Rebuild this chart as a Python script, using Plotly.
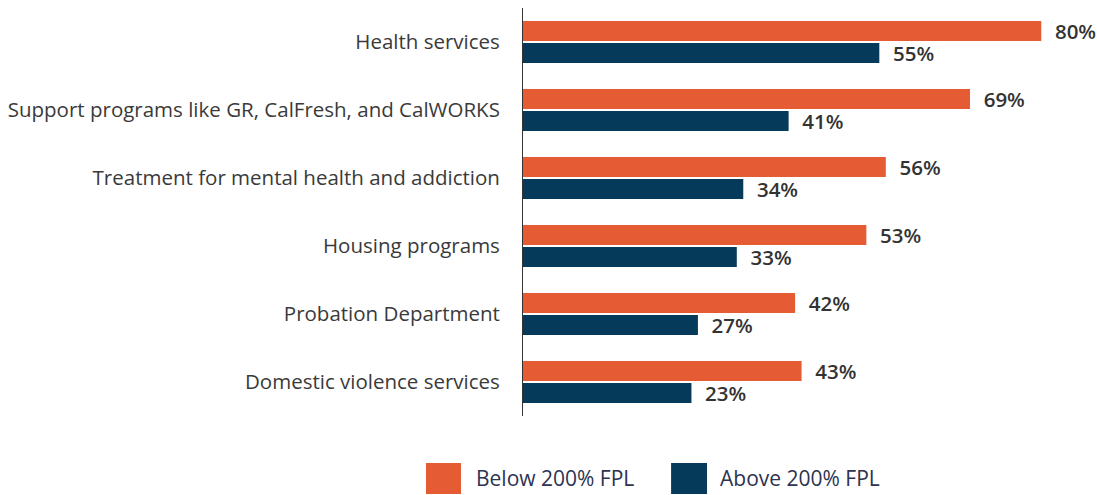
import plotly.graph_objects as go

categories = [
    "Health services",
    "Support programs like GR, CalFresh, and CalWORKS",
    "Treatment for mental health and addiction",
    "Housing programs",
    "Probation Department",
    "Domestic violence services",
]
# bar lengths as drawn in the reference
below_200 = [80, 69, 56, 53, 42, 43]
above_200 = [55, 41, 34, 33, 27, 26]
# value labels as printed in the reference
below_labels = ["80%", "69%", "56%", "53%", "42%", "43%"]
above_labels = ["55%", "41%", "34%", "33%", "27%", "23%"]
series_names = ["Below 200% FPL", "Above 200% FPL"]

ORANGE = "#E55B33"
NAVY = "#053A5B"
FONT = "Open Sans"

fig = go.Figure()
for name, vals, labels, col in [(series_names[0], below_200, below_labels, ORANGE),
                                (series_names[1], above_200, above_labels, NAVY)]:
    fig.add_trace(go.Bar(
        y=categories, x=vals, orientation="h", name=name,
        marker=dict(color=col, line=dict(width=0)),
        text=["\u00a0\u00a0" + t for t in labels],
        textposition="outside", constraintext="none",
        textfont=dict(family=FONT, size=20.5, color="#333333", weight=600),
        cliponaxis=False, showlegend=False, hoverinfo="skip",
    ))

fig.update_layout(
    width=1097, height=495,
    margin=dict(l=523, r=0, t=8, b=79),
    barmode="group", bargap=0.35, bargroupgap=0.09,
    plot_bgcolor="white", paper_bgcolor="white",
    font=dict(family=FONT, size=20, color="#3a3a3a"),
    xaxis=dict(range=[0, 88.6], visible=False, fixedrange=True),
    yaxis=dict(autorange="reversed", showline=True, linecolor="#333333", linewidth=1,
               showgrid=False, ticks="", ticklabelstandoff=18, fixedrange=True,
               tickfont=dict(family=FONT, size=20.5, color="#3a3a3a")),
)

# custom legend (large swatches)
legend_items = [(series_names[0], ORANGE, -0.169, -0.108, -0.0854),
                (series_names[1], NAVY, 0.258, 0.3206, 0.3397)]
for name, col, x0, x1, tx in legend_items:
    fig.add_shape(type="rect", xref="paper", yref="paper", x0=x0, x1=x1, y0=-0.191, y1=-0.115,
                  fillcolor=col, line=dict(width=0))
    fig.add_annotation(xref="paper", yref="paper", x=tx, y=-0.152, text=name, showarrow=False,
                       xanchor="left", yanchor="middle",
                       font=dict(family=FONT, size=21, color="#2d3350"))

fig.write_html("out.html", config={"displayModeBar": False},
               post_script="document.body.style.margin='0';")
